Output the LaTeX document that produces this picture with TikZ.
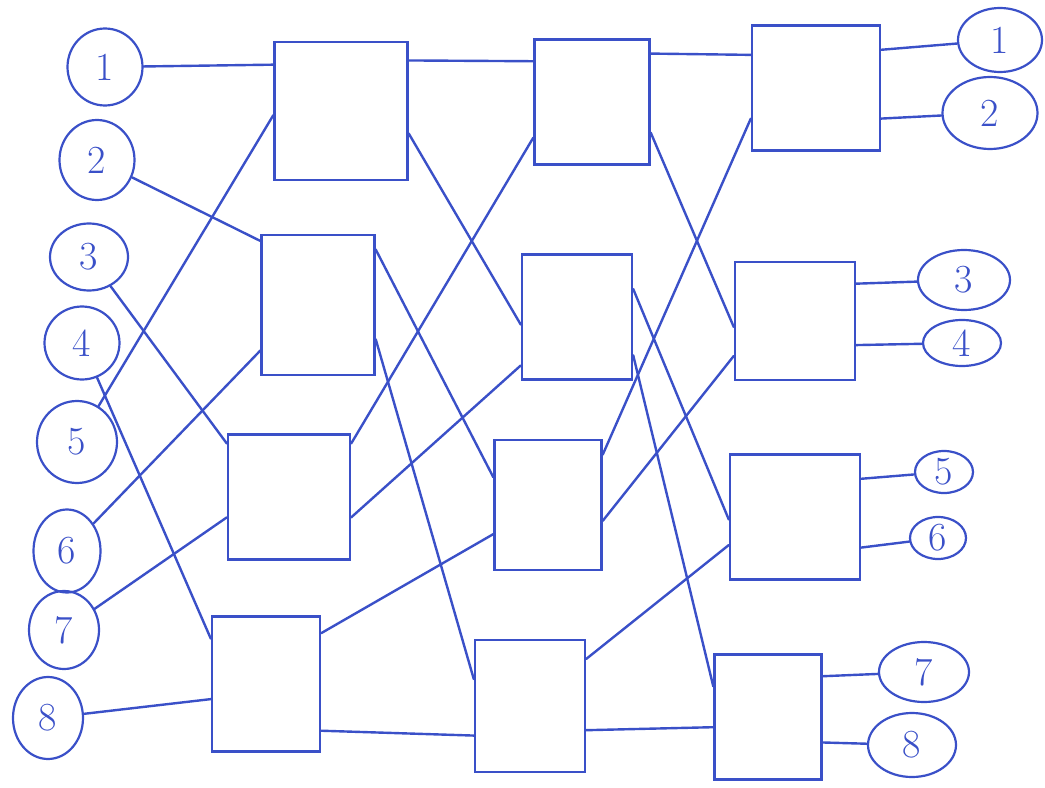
\documentclass[tikz,border=0pt]{standalone}
\usepackage{tikz}
\usetikzlibrary{
  calc,
  shapes.geometric
}
\definecolor{inkblue}{RGB}{58,80,200}
\tikzset{
  switchbox/.style={
    draw=inkblue,
    line width=2.4bp,
    inner sep=0pt
  },
  portnode/.style={
    ellipse,
    draw=inkblue,
    text=inkblue,
    line width=2.2bp,
    inner sep=0pt,
    font=\fontsize{40}{40}\selectfont
  },
  wire/.style={draw=inkblue,line width=2.4bp,line cap=round},
}

\begin{document}
\begin{tikzpicture}[x=1bp,y=-1bp]
  \useasboundingbox (0,0) rectangle (1045,788);

  % Switch boxes: name/x/y/width/height/in1/in2/out1/out2 (fractions from top)
  \foreach \n/\x/\y/\w/\h/\ia/\ib/\oa/\ob in {
    a1/341/111/133/138/0.17/0.53/0.14/0.66,
    a2/318/305/113/140/0.05/0.82/0.11/0.74,
    a3/289/497/122/125/0.08/0.66/0.08/0.66,
    a4/266/684/108/135/0.17/0.61/0.13/0.84,
    b1/592/102/115/125/0.18/0.78/0.12/0.74,
    b2/577/317/110/125/0.56/0.88/0.28/0.80,
    b3/548/505/107/130/0.29/0.72/0.12/0.62,
    b4/530/706/110/132/0.30/0.72/0.15/0.68,
    c1/816/88/128/125/0.24/0.74/0.20/0.74,
    c2/795/321/120/118/0.55/0.79/0.19/0.70,
    c3/795/517/130/125/0.52/0.72/0.20/0.74,
    c4/768/717/107/125/0.26/0.58/0.18/0.70}{
    \node[switchbox,minimum width=\w bp,minimum height=\h bp] (\n) at (\x,\y) {};
    \coordinate (\n-i1) at ($(\n.north west)!\ia!(\n.south west)$);
    \coordinate (\n-i2) at ($(\n.north west)!\ib!(\n.south west)$);
    \coordinate (\n-o1) at ($(\n.north east)!\oa!(\n.south east)$);
    \coordinate (\n-o2) at ($(\n.north east)!\ob!(\n.south east)$);
  }

  % Inputs
  \foreach \n/\x/\y/\w/\h in {
    1/105/67/75/77, 2/97/160/75/80, 3/89/257/78/67, 4/82/343/75/73,
    5/77/442/80/82, 6/67/551/67/83, 7/64/630/70/78, 8/48/718/70/82}{
    \node[portnode,minimum width=\w bp,minimum height=\h bp] (in\n) at (\x,\y) {\n};
  }

  % Outputs
  \foreach \n/\x/\y/\w/\h in {
    1/1000/40/84/64, 2/990/113/95/72, 3/964/280/92/60, 4/962/343/78/46,
    5/944/472/58/42, 6/938/538/56/42, 7/924/672/90/60, 8/912/745/88/64}{
    \node[portnode,minimum width=\w bp,minimum height=\h bp] (out\n) at (\x,\y) {\n};
  }

  % Inputs to first column
  \draw[wire] (in1) -- (a1-i1);
  \draw[wire] (in2) -- (a2-i1);
  \draw[wire] (in3) -- (a3-i1);
  \draw[wire] (in4) -- (a4-i1);
  \draw[wire] (in5) -- (a1-i2);
  \draw[wire] (in6) -- (a2-i2);
  \draw[wire] (in7) -- (a3-i2);
  \draw[wire] (in8) -- (a4-i2);

  % First to second column
  \draw[wire] (a1-o1) -- (b1-i1);
  \draw[wire] (a1-o2) -- (b2-i1);
  \draw[wire] (a2-o1) -- (b3-i1);
  \draw[wire] (a2-o2) -- (b4-i1);
  \draw[wire] (a3-o1) -- (b1-i2);
  \draw[wire] (a3-o2) -- (b2-i2);
  \draw[wire] (a4-o1) -- (b3-i2);
  \draw[wire] (a4-o2) -- (b4-i2);

  % Second to third column
  \draw[wire] (b1-o1) -- (c1-i1);
  \draw[wire] (b1-o2) -- (c2-i1);
  \draw[wire] (b2-o1) -- (c3-i1);
  \draw[wire] (b2-o2) -- (c4-i1);
  \draw[wire] (b3-o1) -- (c1-i2);
  \draw[wire] (b3-o2) -- (c2-i2);
  \draw[wire] (b4-o1) -- (c3-i2);
  \draw[wire] (b4-o2) -- (c4-i2);

  % Third column to outputs
  \draw[wire] (c1-o1) -- (out1);
  \draw[wire] (c1-o2) -- (out2);
  \draw[wire] (c2-o1) -- (out3);
  \draw[wire] (c2-o2) -- (out4);
  \draw[wire] (c3-o1) -- (out5);
  \draw[wire] (c3-o2) -- (out6);
  \draw[wire] (c4-o1) -- (out7);
  \draw[wire] (c4-o2) -- (out8);
\end{tikzpicture}
\end{document}
